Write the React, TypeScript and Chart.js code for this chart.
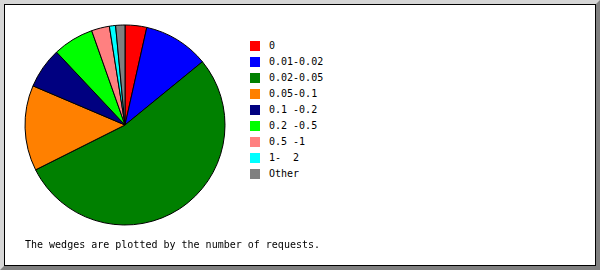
import React, { useEffect, useRef } from "react";
import { Chart, registerables } from "chart.js";

Chart.register(...registerables);

// Response-time ranges (seconds) and their share of requests
const ranges = ["0", "0.01-0.02", "0.02-0.05", "0.05-0.1", "0.1 -0.2", "0.2 -0.5", "0.5 -1", "1-  2", "Other"];
const shares = [3.5, 10.6, 53.5, 13.8, 6.6, 6.6, 2.9, 1.0, 1.5];
const wedgeColors = ["#ff0000", "#0000ff", "#008000", "#ff8000", "#000080", "#00ff00", "#ff8080", "#00ffff", "#808080"];
const caption = "The wedges are plotted by the number of requests.";

const mono = '"DejaVu Sans Mono", "Liberation Mono", monospace';

export default function App() {
  const canvasRef = useRef<HTMLCanvasElement | null>(null);

  useEffect(() => {
    const canvas = canvasRef.current;
    if (!canvas) return;
    const chart = new Chart(canvas, {
      type: "pie",
      data: {
        labels: ranges,
        datasets: [
          {
            data: shares,
            backgroundColor: wedgeColors,
            borderColor: "#000000",
            borderWidth: 1,
          },
        ],
      },
      options: {
        responsive: false,
        animation: false,
        radius: 100,
        layout: { padding: 0 },
        plugins: {
          legend: { display: false },
          tooltip: { enabled: false },
        },
      },
    });
    return () => chart.destroy();
  }, []);

  return (
    <div
      style={{
        position: "absolute",
        left: 0,
        top: 0,
        width: 600,
        height: 270,
        fontFamily: mono,
        fontSize: 10,
        color: "#000",
      }}
    >
      {/* bevelled frame */}
      <div
        style={{
          position: "absolute",
          inset: 0,
          boxSizing: "border-box",
          borderTop: "4px solid #d6d6d6",
          borderLeft: "4px solid #d6d6d6",
          borderRight: "4px solid #808080",
          borderBottom: "4px solid #808080",
        }}
      >
        <div
          style={{
            position: "absolute",
            inset: 0,
            boxSizing: "border-box",
            border: "1px solid #000",
            background: "#fff",
          }}
        />
      </div>

      <canvas
        ref={canvasRef}
        width={250}
        height={250}
        style={{ position: "absolute", left: 0, top: 0, width: 250, height: 250 }}
      />

      {ranges.map((label, i) => (
        <div key={label} style={{ position: "absolute", left: 250, top: 41 + i * 16, height: 10 }}>
          <div
            style={{
              position: "absolute",
              left: 0,
              top: 0,
              width: 10,
              height: 10,
              background: wedgeColors[i],
            }}
          />
          <div
            style={{
              position: "absolute",
              left: 19,
              top: 0,
              lineHeight: "10px",
              whiteSpace: "pre",
            }}
          >
            {label}
          </div>
        </div>
      ))}

      <div
        style={{
          position: "absolute",
          left: 25,
          top: 240,
          lineHeight: "10px",
          whiteSpace: "pre",
        }}
      >
        {caption}
      </div>
    </div>
  );
}
